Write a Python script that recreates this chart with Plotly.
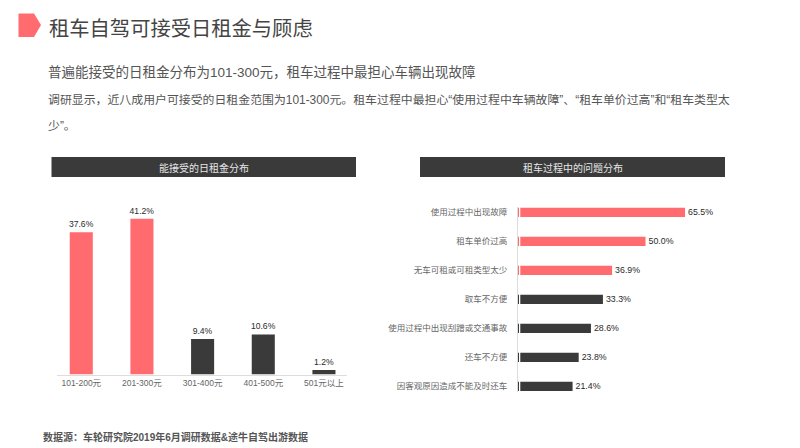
import plotly.graph_objects as go

W, H = 792, 440  # the page's own 8px margin supplies the rest of the 800x448 window
OFFSET = 8
RED = "#FF6B6E"
DARK = "#3A3A3A"
FONT = "Liberation Sans, Noto Sans CJK SC, sans-serif"

rent_categories = ["101-200元", "201-300元", "301-400元", "401-500元", "501元以上"]
rent_values = [37.6, 41.2, 9.4, 10.6, 1.2]
rent_colors = [RED, RED, DARK, DARK, DARK]

issue_categories = ["使用过程中出现故障", "租车单价过高", "无车可租或可租类型太少", "取车不方便",
                    "使用过程中出现刮蹭或交通事故", "还车不方便", "因客观原因造成不能及时还车"]
issue_values = [65.5, 50.0, 36.9, 33.3, 28.6, 23.8, 21.4]
issue_colors = [RED, RED, RED, DARK, DARK, DARK, DARK]

title = "租车自驾可接受日租金与顾虑"
subtitle = "普遍能接受的日租金分布为101-300元，租车过程中最担心车辆出现故障"
body_1 = "调研显示，近八成用户可接受的日租金范围为101-300元。租车过程中最担心“使用过程中车辆故障”、“租车单价过高”和“租车类型太"
body_2 = "少”。"
left_header = "能接受的日租金分布"
right_header = "租车过程中的问题分布"
source = "<b>数据源：车轮研究院2019年6月调研数据&途牛自驾出游数据</b>"


def px(x):
    return (x - OFFSET) / W


def py(y):
    return 1 - (y - OFFSET) / H


fig = go.Figure()
fig.add_trace(go.Bar(
    x=rent_categories, y=rent_values, marker=dict(color=rent_colors, line_width=0),
    text=[f"{v:.1f}%" for v in rent_values], textposition="outside", cliponaxis=False, constraintext="none",
    textfont=dict(size=8.6, color="#2A2A2A", family=FONT), xaxis="x", yaxis="y", showlegend=False,
))
fig.add_trace(go.Bar(
    y=issue_categories, x=issue_values, orientation="h", marker=dict(color=issue_colors, line_width=0),
    text=[f"{v:.1f}%" for v in issue_values], textposition="outside", cliponaxis=False, constraintext="none",
    textfont=dict(size=8.8, color="#2A2A2A", family=FONT), xaxis="x2", yaxis="y2", showlegend=False,
))


def note(text, x, y, size, color="#555555", anchor="left"):
    fig.add_annotation(text=text, x=px(x), y=py(y), xref="paper", yref="paper", xanchor=anchor,
                       yanchor="middle", showarrow=False, align=anchor,
                       font=dict(size=size, color=color, family=FONT))


note(title, 46.5, 29.5, 20.3, "#444444")
note(subtitle, 46, 72, 13.5)
note(body_1, 46, 100, 11.9)
note(body_2, 46, 126, 11.9)
note(left_header, 204, 167.5, 10, "#E6E6E6", "center")
note(right_header, 572.5, 167.5, 10, "#E6E6E6", "center")
note(source, 41, 437, 10)

shapes = [
    dict(type="path", path=f"M{px(18.5)},{py(13.5)} L{px(34)},{py(13.5)} L{px(41)},{py(25)} L{px(34)},{py(37)} L{px(18.5)},{py(37)} Z",
         xref="paper", yref="paper", fillcolor=RED, line_width=0),
    dict(type="rect", x0=px(51.5), x1=px(356), y0=py(157), y1=py(177), xref="paper", yref="paper",
         fillcolor=DARK, line_width=0),
    dict(type="rect", x0=px(420), x1=px(725), y0=py(157), y1=py(177), xref="paper", yref="paper",
         fillcolor=DARK, line_width=0),
    # thin white gap between the category axis line and the start of the bars
    dict(type="rect", x0=px(519), x1=px(520.3), y0=py(207), y1=py(392), xref="paper", yref="paper",
         fillcolor="white", line_width=0, layer="above"),
]

fig.update_layout(
    width=W, height=H, autosize=False, margin=dict(l=0, r=0, t=0, b=0, pad=0),
    paper_bgcolor="white", plot_bgcolor="white", bargap=0.62, shapes=shapes,
    font=dict(family=FONT),
    xaxis=dict(domain=[px(57), px(347)], range=[-0.4, 4.38], type="category",
               categoryorder="array", categoryarray=rent_categories, anchor="y",
               showline=True, linecolor="#DDDDDD", linewidth=1, ticks="", showgrid=False,
               tickfont=dict(size=8.5, color="#666666", family=FONT)),
    yaxis=dict(domain=[py(374.5), py(205)], range=[0, (374.5 - 205) / 3.78], anchor="x",
               visible=False, showgrid=False),
    xaxis2=dict(domain=[px(518), px(720)], range=[0, (720 - 518) / 2.55], anchor="y2",
                visible=False, showgrid=False),
    yaxis2=dict(domain=[py(392), py(207)], range=[(392 - 212.3) / 29, -(212.3 - 207) / 29], type="category",
                categoryorder="array", categoryarray=issue_categories, anchor="x2",
                showline=True, linecolor="#DDDDDD", linewidth=1, ticks="", showgrid=False,
                ticklabelstandoff=8,
                tickfont=dict(size=8.5, color="#666666", family=FONT)),
)
fig.data[1].width = 0.32

fig.write_html("out.html")
